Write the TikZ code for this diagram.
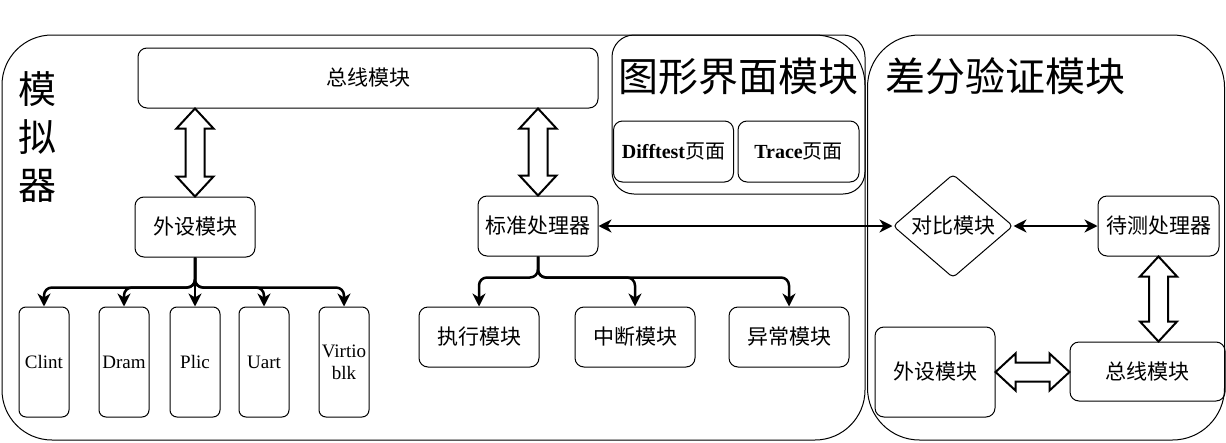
\documentclass[tikz,border=0pt]{standalone}
\usepackage{fontspec}
\setmainfont{Liberation Serif}
\newfontfamily\cjk{Noto Sans CJK SC}
\usetikzlibrary{arrows.meta,shapes.geometric,calc}

\begin{document}
\begin{tikzpicture}[x=1pt,y=-1pt]
	\tikzstyle{frame}=[rectangle, draw=black, line width=1pt, inner sep=0pt]
	\tikzstyle{box}=[frame, rounded corners=9pt, font=\fontsize{21}{24}\selectfont\cjk]
	\tikzstyle{dev}=[frame, rounded corners=7pt, minimum width=50pt, minimum height=110pt, align=center, font=\fontsize{19}{22}\selectfont]
	\tikzstyle{title}=[inner sep=0pt, font=\fontsize{40}{48}\selectfont\cjk]
	\tikzstyle{branch}=[-{Stealth[length=13pt,width=13pt,inset=4pt]}, line width=2.5pt, rounded corners=8pt]
	\tikzstyle{link}=[{Stealth[length=13pt,width=13pt,inset=4pt]}-{Stealth[length=13pt,width=13pt,inset=4pt]}, line width=2.5pt]
	\tikzstyle{fatv}=[draw, fill=white, line width=2pt, line join=miter,
		to path={let \p1=(\tikztostart), \p2=(\tikztotarget) in
			(\p1) -- (\x1+18.5pt,\y1-20pt) -- (\x1+9.5pt,\y1-20pt) -- (\x1+9.5pt,\y2+20pt)
			-- (\x1+18.5pt,\y2+20pt) -- (\x1,\y2) -- (\x1-18.5pt,\y2+20pt) -- (\x1-9.5pt,\y2+20pt)
			-- (\x1-9.5pt,\y1-20pt) -- (\x1-18.5pt,\y1-20pt) -- cycle}]
	\tikzstyle{fath}=[draw, fill=white, line width=2pt, line join=miter,
		to path={let \p1=(\tikztostart), \p2=(\tikztotarget) in
			(\p1) -- (\x1+20pt,\y1+18.5pt) -- (\x1+20pt,\y1+9.5pt) -- (\x2-20pt,\y1+9.5pt)
			-- (\x2-20pt,\y1+18.5pt) -- (\x2,\y1) -- (\x2-20pt,\y1-18.5pt) -- (\x2-20pt,\y1-9.5pt)
			-- (\x1+20pt,\y1-9.5pt) -- (\x1+20pt,\y1-18.5pt) -- cycle}]

	\useasboundingbox (0,0) rectangle (1226,442);

	% containers
	\node[frame, rounded corners=50pt, minimum width=863pt, minimum height=405pt] (sim) at (433.5,237.5) {};
	\node[frame, rounded corners=22pt, minimum width=253pt, minimum height=159pt] (gui) at (738.5,114.5) {};
	\node[frame, rounded corners=52pt, minimum width=357pt, minimum height=405pt] (diff) at (1046,237.5) {};

	\node[title, align=center, font=\fontsize{38}{48}\selectfont\cjk] (simtitle) at (38,137) {模\\拟\\器};
	\node[title] (guititle) at (738,76) {图形界面模块};
	\node[title] (difftitle) at (1005,76) {差分验证模块};

	% simulator
	\node[box, minimum width=460pt, minimum height=60pt] (simbus) at (368,78) {总线模块};
	\node[box, minimum width=120pt, minimum height=60pt] (simper) at (195,227) {外设模块};
	\node[dev] (clint) at (44,362) {Clint};
	\node[dev] (dram) at (124,362) {Dram};
	\node[dev] (plic) at (195,362) {Plic};
	\node[dev] (uart) at (264,362) {Uart};
	\node[dev] (virtio) at (344,362) {Virtio\\blk};

	\node[box, minimum width=120pt, minimum height=60pt] (std) at (538,226) {标准处理器};
	\node[box, minimum width=120pt, minimum height=60pt] (exec) at (479,337) {执行模块};
	\node[box, minimum width=120pt, minimum height=60pt] (intr) at (635,337) {中断模块};
	\node[box, minimum width=120pt, minimum height=60pt] (exc) at (789,337) {异常模块};

	% gui
	\node[box, minimum width=120pt, minimum height=61pt, font=\fontsize{20}{24}\selectfont] (difftestpg) at (673.5,151.5) {\textbf{Difftest}{\cjk 页面}};
	\node[box, minimum width=121pt, minimum height=61pt, font=\fontsize{20}{24}\selectfont] (tracepg) at (798.5,151.5) {\textbf{Trace}{\cjk 页面}};

	% difftest
	\node[diamond, draw=black, line width=1pt, rounded corners=4pt, inner sep=0pt, minimum width=120pt, minimum height=75pt, font=\fontsize{21}{24}\selectfont\cjk] (cmp) at (953,226) {对比模块};
	\node[box, minimum width=121pt, minimum height=60pt] (dut) at (1158.5,226) {待测处理器};
	\node[box, minimum width=155pt, minimum height=59pt] (diffbus) at (1147.5,371.5) {总线模块};
	\node[box, minimum width=120pt, minimum height=90pt] (diffper) at (935,372) {外设模块};

	\path (simper.north |- simbus.south) edge[fatv] (simper.north)
		(std.north |- simbus.south) edge[fatv] (std.north)
		(dut.south) edge[fatv] (dut.south |- diffbus.north)
		(diffper.east) edge[fath] (diffbus.west |- diffper.east);

	\foreach \c in {clint,dram,plic,uart,virtio}
		\draw[branch] (simper.south) -- ++(0,30) -| (\c.north);
	\foreach \c in {exec,intr,exc}
		\draw[branch] (std.south) -- ++(0,21) -| (\c.north);

	\draw[link] (std.east) -- (cmp.west);
	\draw[link] (cmp.east) -- (dut.west);

\end{tikzpicture}
\end{document}
